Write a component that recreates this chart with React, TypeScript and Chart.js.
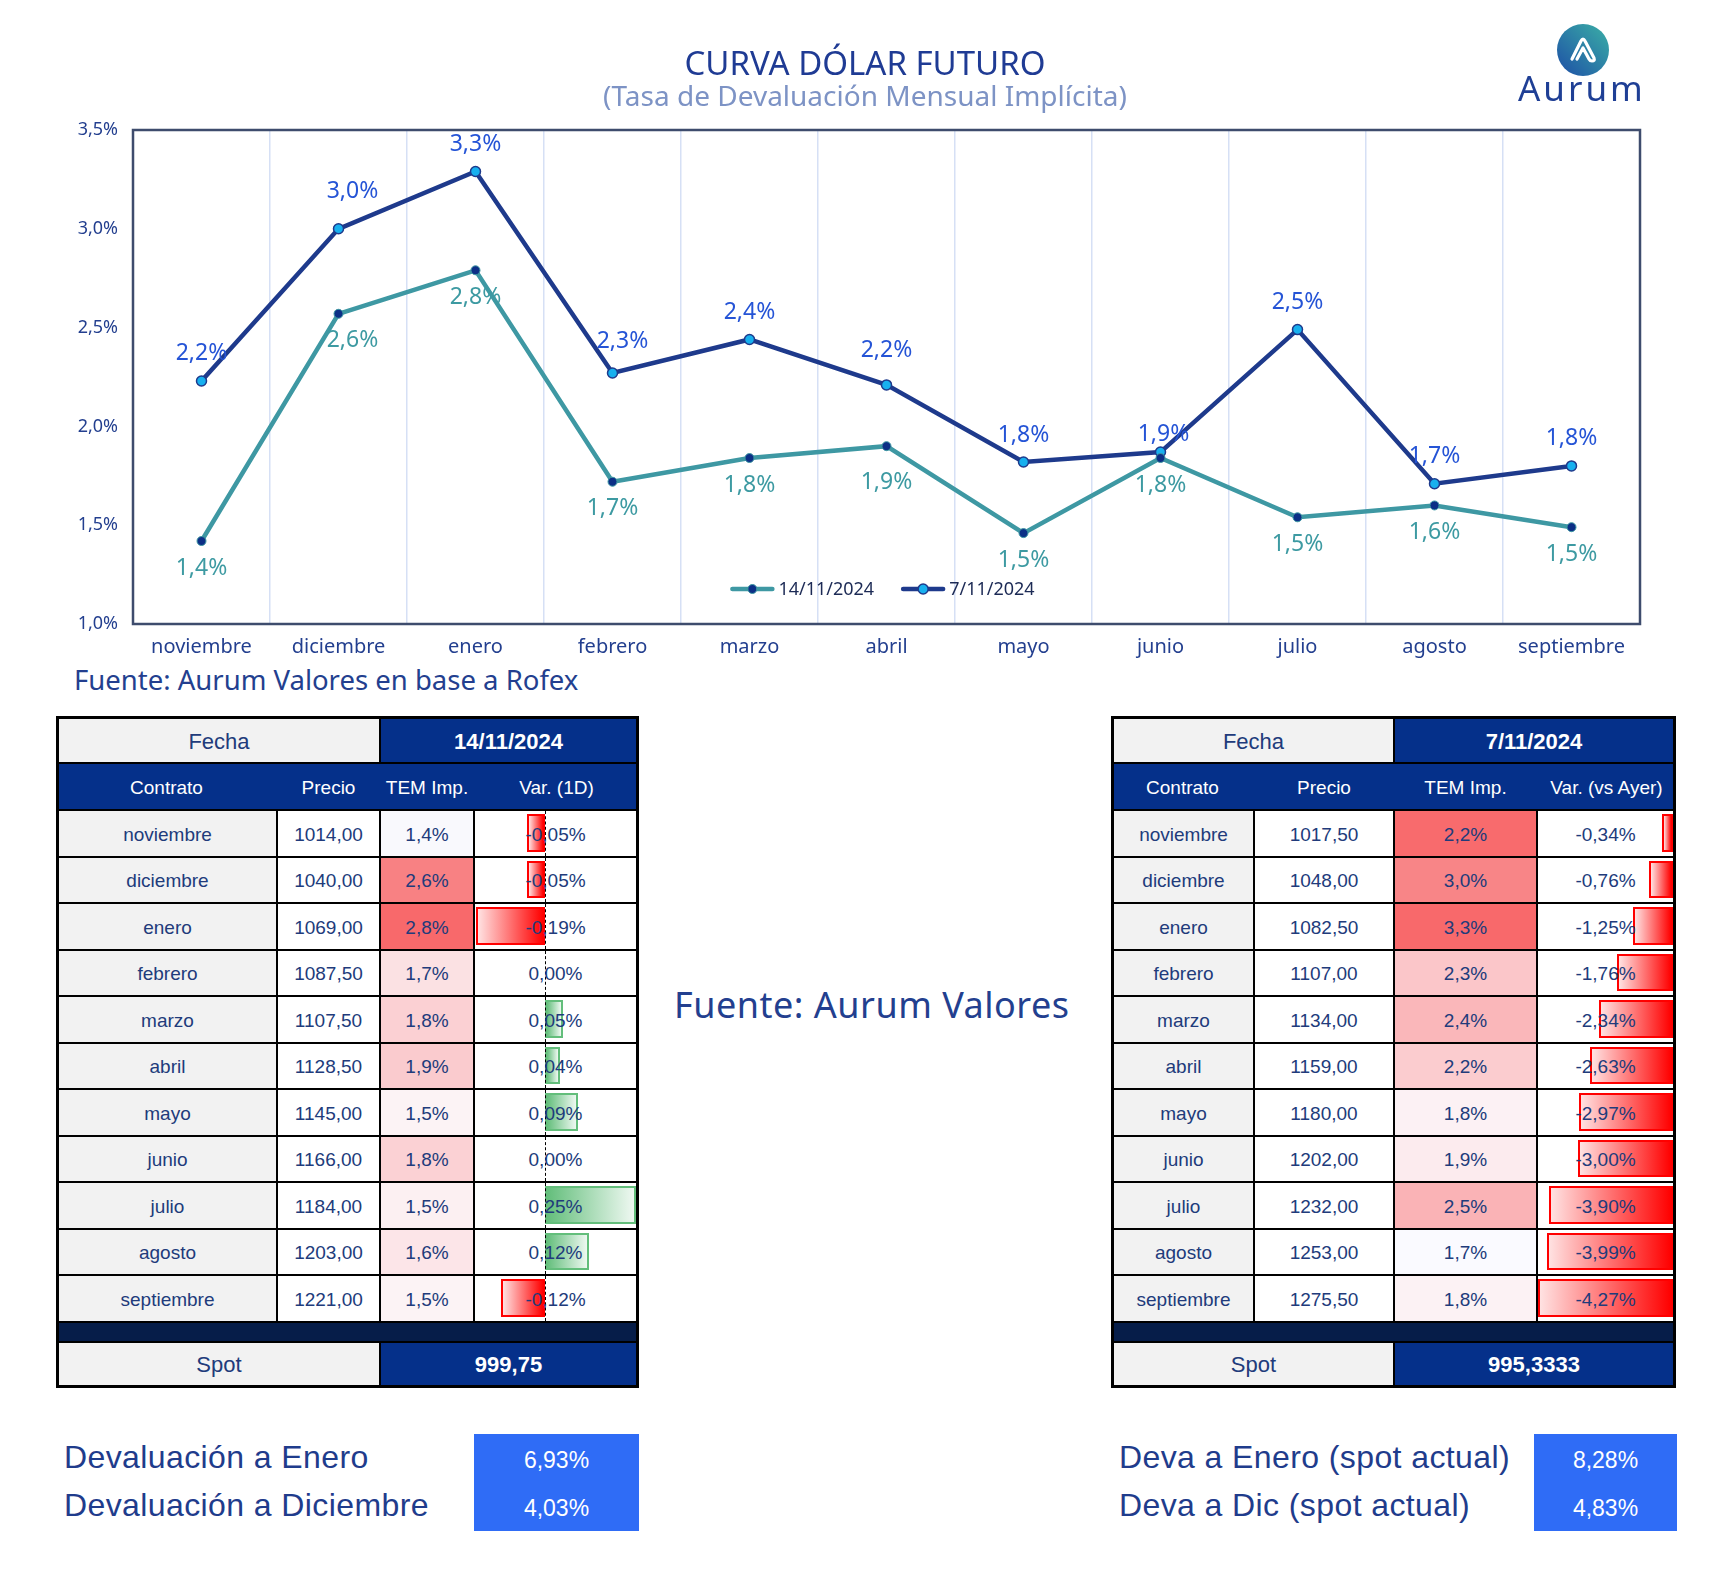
import React, { useEffect, useRef } from "react";
import { Chart, registerables } from "chart.js";

Chart.register(...registerables);

// ---------------- data ----------------
const months = ["noviembre", "diciembre", "enero", "febrero", "marzo", "abril", "mayo", "junio", "julio", "agosto", "septiembre"];
const seriesLabels = ["14/11/2024", "7/11/2024"];
const tem14 = [1.42, 2.57, 2.79, 1.72, 1.84, 1.9, 1.46, 1.84, 1.54, 1.6, 1.49];
const tem7 = [2.23, 3.0, 3.29, 2.27, 2.44, 2.21, 1.82, 1.87, 2.49, 1.71, 1.8];
const yTicks = [1.0, 1.5, 2.0, 2.5, 3.0, 3.5];
const precio14 = [1014.0, 1040.0, 1069.0, 1087.5, 1107.5, 1128.5, 1145.0, 1166.0, 1184.0, 1203.0, 1221.0];
const var14 = [-0.05, -0.05, -0.19, 0.0, 0.05, 0.04, 0.09, 0.0, 0.25, 0.12, -0.12];
const precio7 = [1017.5, 1048.0, 1082.5, 1107.0, 1134.0, 1159.0, 1180.0, 1202.0, 1232.0, 1253.0, 1275.5];
const var7 = [-0.34, -0.76, -1.25, -1.76, -2.34, -2.63, -2.97, -3.0, -3.9, -3.99, -4.27];
const spot14 = "999,75";
const spot7 = "995,3333";
const devaLabels14 = ["Devaluación a Enero", "Devaluación a Diciembre"];
const devaValues14 = [6.93, 4.03];
const devaLabels7 = ["Deva a Enero (spot actual)", "Deva a Dic (spot actual)"];
const devaValues7 = [8.28, 4.83];

// ---------------- styles ----------------
const CHART_FONT = "'Noto Sans', 'DejaVu Sans', sans-serif";
const TABLE_FONT = "'Liberation Sans', Arial, sans-serif";
const TEAL = "#3e98a3";
const NAVY = "#1e3a8c";
const TEXT_BLUE = "#233f8f";
const CELL_TEXT = "#213b7b";
const HEAD_NAVY = "#05308a";
const BAND_NAVY = "#061d49";
const temColors14 = ["#f9f9fd", "#f88183", "#f8696b", "#fbe1e3", "#fbd0d3", "#facbce", "#fcf3f5", "#fbd1d4", "#fcf0f2", "#fce5e8", "#fcf3f5"];
const temColors7 = ["#f86b6d", "#f88587", "#f8696b", "#fbc6c9", "#fab7ba", "#fbcccf", "#fcf1f4", "#fcebee", "#fab3b6", "#fafaff", "#fcf2f4"];
// label nudges [dx, dy] keyed "dataset-index"
const nudge: Record<string, [number, number]> = {
  "0-1": [14, 0],
  "0-5": [0, 9],
  "1-1": [14, -10],
  "1-3": [10, -5],
  "1-5": [0, -7],
  "1-7": [3, 9],
};

const fmt = (v: number, d: number) => v.toFixed(d).replace(".", ",");

// ---------------- chart plugins ----------------
const framePlugin = {
  id: "frame",
  afterDatasetsDraw(chart: any) {
    const { ctx, chartArea: a } = chart;
    ctx.save();
    ctx.strokeStyle = "#3e4c6d";
    ctx.lineWidth = 2.5;
    ctx.strokeRect(a.left, a.top, a.right - a.left, a.bottom - a.top);
    ctx.restore();
  },
};

const labelsPlugin = {
  id: "valueLabels",
  afterDatasetsDraw(chart: any) {
    const { ctx } = chart;
    ctx.save();
    ctx.font = `23px ${CHART_FONT}`;
    ctx.textAlign = "center";
    ctx.textBaseline = "middle";
    chart.data.datasets.forEach((ds: any, i: number) => {
      const meta = chart.getDatasetMeta(i);
      meta.data.forEach((pt: any, j: number) => {
        const v = ds.data[j] as number;
        const [dx, dy] = nudge[`${i}-${j}`] || [0, 0];
        const baseDy = i === 0 ? 27 : -27;
        ctx.fillStyle = i === 0 ? "#3d9aa2" : "#2554d6";
        ctx.fillText(fmt(v, 1) + "%", pt.x + dx, pt.y + baseDy + dy);
      });
    });
    ctx.restore();
  },
};

const legendPlugin = {
  id: "innerLegend",
  afterDraw(chart: any) {
    const { ctx, chartArea: a } = chart;
    ctx.save();
    ctx.font = `18px ${CHART_FONT}`;
    ctx.textBaseline = "middle";
    const lineW = 44;
    const gap = 4;
    const spacing = 27;
    const items = chart.data.datasets.map((ds: any) => ({ ds, w: lineW + gap + ctx.measureText(ds.label).width }));
    const total = items.reduce((s: number, it: any) => s + it.w, 0) + spacing * (items.length - 1);
    let x = (a.left + a.right) / 2 - total / 2 - 4;
    const y = a.bottom - 35;
    items.forEach((it: any) => {
      const ds = it.ds;
      ctx.strokeStyle = ds.borderColor;
      ctx.lineWidth = 4.5;
      ctx.lineCap = "round";
      ctx.beginPath();
      ctx.moveTo(x + 2, y);
      ctx.lineTo(x + lineW - 2, y);
      ctx.stroke();
      ctx.beginPath();
      ctx.arc(x + lineW / 2, y, ds.pointRadius, 0, Math.PI * 2);
      ctx.fillStyle = ds.pointBackgroundColor;
      ctx.fill();
      ctx.lineWidth = ds.pointBorderWidth;
      ctx.strokeStyle = ds.pointBorderColor;
      ctx.stroke();
      ctx.fillStyle = "#1c2a55";
      ctx.textAlign = "left";
      ctx.fillText(ds.label, x + lineW + gap, y + 1);
      x += it.w + spacing;
    });
    ctx.restore();
  },
};

function CurveChart() {
  const ref = useRef<HTMLCanvasElement>(null);
  useEffect(() => {
    if (!ref.current) return;
    const chart = new Chart(ref.current, {
      type: "line",
      data: {
        labels: months,
        datasets: [
          {
            label: seriesLabels[0],
            data: tem14,
            borderColor: TEAL,
            backgroundColor: TEAL,
            borderWidth: 4.5,
            pointRadius: 4.5,
            pointBackgroundColor: "#0c2f86",
            pointBorderColor: TEAL,
            pointBorderWidth: 1,
            tension: 0,
          },
          {
            label: seriesLabels[1],
            data: tem7,
            borderColor: NAVY,
            backgroundColor: NAVY,
            borderWidth: 4.5,
            pointRadius: 5,
            pointBackgroundColor: "#17b0ef",
            pointBorderColor: NAVY,
            pointBorderWidth: 1.5,
            tension: 0,
          },
        ],
      },
      options: {
        responsive: false,
        animation: false,
        devicePixelRatio: 1,
        layout: { padding: { left: 0, right: 6, top: 49.5, bottom: 0 } },
        plugins: {
          legend: { display: false },
          tooltip: { enabled: false },
          title: {
            display: true,
            text: "CURVA DÓLAR FUTURO",
            color: "#1f3b94",
            font: { family: CHART_FONT, size: 33, weight: "normal", lineHeight: 1.0 },
            padding: { top: 0, bottom: 0 },
          },
          subtitle: {
            display: true,
            text: "(Tasa de Devaluación Mensual Implícita)",
            color: "#7d93c5",
            font: { family: CHART_FONT, size: 28, lineHeight: 1.1 },
            padding: { top: 0, bottom: 16.7 },
          },
        },
        scales: {
          x: {
            offset: true,
            grid: { offset: true, color: "#d6e0f5", lineWidth: 1.5, drawTicks: false },
            border: { display: false },
            ticks: { color: TEXT_BLUE, font: { family: CHART_FONT, size: 20 }, padding: 11, maxRotation: 0, autoSkip: false },
            afterFit: (s: any) => {
              s.height = 36;
            },
          },
          y: {
            min: yTicks[0],
            max: yTicks[yTicks.length - 1],
            grid: { display: false, drawTicks: false },
            border: { display: false },
            afterBuildTicks: (s: any) => {
              s.ticks = yTicks.map((v) => ({ value: v }));
            },
            ticks: {
              color: TEXT_BLUE,
              font: { family: CHART_FONT, size: 18 },
              padding: 15,
              callback: (v: any) => fmt(Number(v), 1) + "%",
            },
            afterFit: (s: any) => {
              s.width = 133;
            },
          },
          ySpacer: {
            position: "right",
            display: true,
            grid: { display: false, drawTicks: false },
            border: { display: false },
            ticks: { display: false },
            afterFit: (s: any) => {
              s.width = 90;
            },
          },
        },
      } as any,
      plugins: [framePlugin, labelsPlugin, legendPlugin],
    });
    return () => chart.destroy();
  }, []);
  return <canvas ref={ref} width={1736} height={660} style={{ position: "absolute", left: 0, top: 0, width: 1736, height: 660 }} />;
}

// ---------------- table ----------------
type TableProps = {
  x: number;
  y: number;
  cols: number[];
  date: string;
  varHeader: string;
  precios: number[];
  tems: number[];
  temColors: string[];
  vars: number[];
  varAxis: number;
  varScale: number;
  spot: string;
  showAxis: boolean;
};

function DataTable(p: TableProps) {
  const rowH = [47, 47, ...months.map(() => 46.5), 20, 46];
  const rowY: number[] = [];
  let acc = 0;
  rowH.forEach((h) => {
    rowY.push(acc);
    acc += h;
  });
  const totalH = acc;
  const colX: number[] = [];
  let cx = 0;
  p.cols.forEach((w) => {
    colX.push(cx);
    cx += w;
  });
  const totalW = cx;
  const nRows = rowH.length;

  const rect = (c0: number, c1: number, r: number) => {
    const x0 = colX[c0] + (c0 === 0 ? 3 : 1);
    const x1 = colX[c1] + p.cols[c1] - (c1 === p.cols.length - 1 ? 3 : 1);
    const y0 = rowY[r] + (r === 0 ? 3 : 1);
    const y1 = rowY[r] + rowH[r] - (r === nRows - 1 ? 3 : 1);
    return { left: x0, top: y0, width: x1 - x0, height: y1 - y0 };
  };
  const cellBase: React.CSSProperties = {
    position: "absolute",
    display: "flex",
    alignItems: "center",
    justifyContent: "center",
    fontFamily: TABLE_FONT,
    color: CELL_TEXT,
    fontSize: 19,
    overflow: "hidden",
    boxSizing: "border-box",
    paddingTop: 3,
  };
  const cells: React.ReactNode[] = [];
  // Fecha row
  cells.push(
    <div key="f1" style={{ ...cellBase, ...rect(0, 1, 0), background: "#f2f2f2", fontSize: 22 }}>Fecha</div>,
    <div key="f2" style={{ ...cellBase, ...rect(2, 3, 0), background: HEAD_NAVY, color: "#fff", fontSize: 22, fontWeight: "bold" }}>{p.date}</div>
  );
  // header row
  const hdr = rect(0, 3, 1);
  cells.push(<div key="hbg" style={{ ...cellBase, ...hdr, background: HEAD_NAVY }} />);
  ["Contrato", "Precio", "TEM Imp.", p.varHeader].forEach((t, c) => {
    cells.push(
      <div key={"h" + c} style={{ ...cellBase, left: colX[c], top: hdr.top, width: p.cols[c], height: hdr.height, color: "#fff", fontSize: 19 }}>
        {t}
      </div>
    );
  });
  // data rows
  months.forEach((m, i) => {
    const r = i + 2;
    cells.push(<div key={"c" + i} style={{ ...cellBase, ...rect(0, 0, r), background: "#f2f2f2" }}>{m}</div>);
    cells.push(<div key={"p" + i} style={{ ...cellBase, ...rect(1, 1, r), background: "#fff" }}>{fmt(p.precios[i], 2)}</div>);
    cells.push(<div key={"t" + i} style={{ ...cellBase, ...rect(2, 2, r), background: p.temColors[i] }}>{fmt(p.tems[i], 1)}%</div>);
    const vr = rect(3, 3, r);
    const axisLocal = p.varAxis - (vr.left - colX[3]);
    const v = p.vars[i];
    const bw = Math.abs(v) * p.varScale;
    const neg = v < 0;
    cells.push(
      <div key={"v" + i} style={{ ...cellBase, ...vr, background: "#fff" }}>
        {bw > 0.5 && (
          <div
            style={{
              position: "absolute",
              left: neg ? axisLocal - bw : axisLocal,
              width: bw,
              top: 3,
              height: vr.height - 7,
              boxSizing: "border-box",
              border: `2px solid ${neg ? "#ff0000" : "#63be7b"}`,
              background: neg ? "linear-gradient(to right, #ffe2e2, #ff0000)" : "linear-gradient(to right, #63be7b, #eef8f1)",
            }}
          />
        )}
        {p.showAxis && (
          <div style={{ position: "absolute", left: axisLocal, top: 0, bottom: 0, width: 0, borderLeft: "1.5px dashed #000" }} />
        )}
        <span style={{ position: "relative", zIndex: 2 }}>{fmt(v, 2)}%</span>
      </div>
    );
  });
  // band
  cells.push(<div key="band" style={{ ...cellBase, ...rect(0, 3, nRows - 2), background: BAND_NAVY }} />);
  // spot
  cells.push(
    <div key="s1" style={{ ...cellBase, ...rect(0, 1, nRows - 1), background: "#f2f2f2", fontSize: 22 }}>Spot</div>,
    <div key="s2" style={{ ...cellBase, ...rect(2, 3, nRows - 1), background: HEAD_NAVY, color: "#fff", fontSize: 22, fontWeight: "bold" }}>{p.spot}</div>
  );
  return (
    <div style={{ position: "absolute", left: p.x, top: p.y, width: totalW, height: totalH, background: "#000" }}>{cells}</div>
  );
}

function DevaBlock({ x, boxX, boxW, labels, values }: { x: number; boxX: number; boxW: number; labels: string[]; values: number[] }) {
  const ys = [1457, 1505];
  return (
    <>
      {labels.map((l, i) => (
        <div
          key={"l" + i}
          style={{ position: "absolute", left: x, top: ys[i] - 20, height: 40, lineHeight: "40px", fontFamily: TABLE_FONT, fontSize: 32, color: "#1f3c8c", whiteSpace: "nowrap", letterSpacing: 0.4 }}
        >
          {l}
        </div>
      ))}
      <div style={{ position: "absolute", left: boxX, top: 1434, width: boxW, height: 97, background: "#2f6cf6" }} />
      {values.map((v, i) => (
        <div
          key={"v" + i}
          style={{ position: "absolute", left: boxX, width: boxW, top: ys[i] + 3 - 16, height: 32, lineHeight: "32px", textAlign: "center", fontFamily: TABLE_FONT, fontSize: 23, color: "#fff" }}
        >
          {fmt(v, 2)}%
        </div>
      ))}
    </>
  );
}

function Logo() {
  return (
    <>
      <svg style={{ position: "absolute", left: 1555, top: 22 }} width={56} height={56} viewBox="0 0 56 56">
        <defs>
          <linearGradient id="lg" x1="0" y1="1" x2="1" y2="0">
            <stop offset="0" stopColor="#1d4ea6" />
            <stop offset="1" stopColor="#3bb0a6" />
          </linearGradient>
        </defs>
        <circle cx={28} cy={28} r={26} fill="url(#lg)" />
        <path d="M17 37 L26 19 Q28 15 30 19 L39 36 Q40 39 37 39 Q35 39 34 37 L28 26 L22 37" fill="none" stroke="#fff" strokeWidth={3.2} strokeLinejoin="round" strokeLinecap="round" />
      </svg>
      <div
        style={{ position: "absolute", left: 1518, top: 68, height: 40, lineHeight: "40px", fontFamily: CHART_FONT, fontSize: 35, color: "#1f3f95", letterSpacing: 3, whiteSpace: "nowrap" }}
      >
        Aurum
      </div>
    </>
  );
}

export default function App() {
  return (
    <div style={{ position: "absolute", left: 0, top: 0, width: 1736, height: 1582, background: "#fff", overflow: "hidden" }}>
      <CurveChart />
      <Logo />
      <div style={{ position: "absolute", left: 74, top: 663, height: 34, lineHeight: "34px", fontFamily: CHART_FONT, fontSize: 27.5, color: TEXT_BLUE, whiteSpace: "nowrap" }}>
        Fuente: Aurum Valores en base a Rofex
      </div>
      <div style={{ position: "absolute", left: 674, top: 982, height: 46, lineHeight: "46px", fontFamily: CHART_FONT, fontSize: 36, color: TEXT_BLUE, whiteSpace: "nowrap", letterSpacing: 0.5 }}>
        Fuente: Aurum Valores
      </div>
      <DataTable
        x={56}
        y={716}
        cols={[221, 103, 94, 165]}
        date={seriesLabels[0]}
        varHeader="Var. (1D)"
        precios={precio14}
        tems={tem14}
        temColors={temColors14}
        vars={var14}
        varAxis={71}
        varScale={365}
        spot={spot14}
        showAxis={true}
      />
      <DataTable
        x={1111}
        y={716}
        cols={[143, 140, 143, 139]}
        date={seriesLabels[1]}
        varHeader="Var. (vs Ayer)"
        precios={precio7}
        tems={tem7}
        temColors={temColors7}
        vars={var7}
        varAxis={136}
        varScale={31.7}
        spot={spot7}
        showAxis={false}
      />
      <DevaBlock x={64} boxX={474} boxW={165} labels={devaLabels14} values={devaValues14} />
      <DevaBlock x={1119} boxX={1534} boxW={143} labels={devaLabels7} values={devaValues7} />
    </div>
  );
}
